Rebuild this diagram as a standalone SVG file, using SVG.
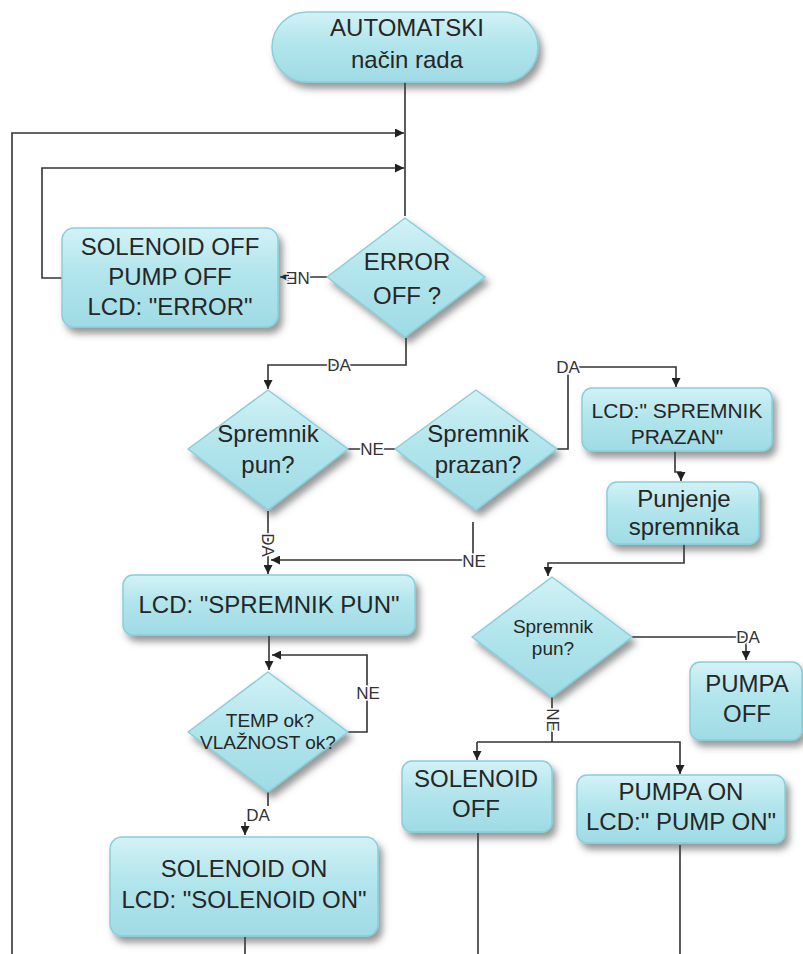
<svg xmlns="http://www.w3.org/2000/svg" width="803" height="954" viewBox="0 0 803 954">
<style>
.n{fill:url(#g);stroke:#86cfdc;stroke-width:1.5;filter:url(#sh)}
.t{font-family:"Liberation Sans",Arial,sans-serif;font-size:24px;fill:#262626;text-anchor:middle}
.s{font-size:19px}
.m{font-size:21px}
.c{fill:none;stroke:#333;stroke-width:1.6}
.a{marker-end:url(#ar)}
.l{font-family:"Liberation Sans",Arial,sans-serif;font-size:17px;fill:#333;text-anchor:middle;dominant-baseline:central;paint-order:stroke;stroke:#fff;stroke-width:3px}
</style>
<defs>
<linearGradient id="g" x1="0" y1="0" x2="0" y2="1">
<stop offset="0" stop-color="#d2f2f6"/>
<stop offset="0.45" stop-color="#b2e5ec"/>
<stop offset="1" stop-color="#9fdbe5"/>
</linearGradient>
<filter id="sh" x="-20%" y="-20%" width="150%" height="160%">
<feDropShadow dx="4" dy="6" stdDeviation="3.5" flood-color="#444" flood-opacity="0.55"/>
</filter>
<marker id="ar" viewBox="0 0 10 10" refX="10" refY="5" markerWidth="9" markerHeight="9" markerUnits="userSpaceOnUse" orient="auto">
<path d="M0,0 L10,5 L0,10 z" fill="#222"/>
</marker>
</defs>
<g id="connectors">
<path class="c" d="M405,82 V216"/>
<path class="c a" d="M12,954 V133 H404"/>
<path class="c a" d="M62,278 H42 V168 H404"/>
<path class="c a" d="M327,277 H280"/>
<path class="c a" d="M406,338 V365 H268 V389"/>
<path class="c" d="M348,449 H395"/>
<path class="c a" d="M557,449 H568 V367 H676 V387"/>
<path class="c a" d="M473,522 V560 H271"/>
<path class="c a" d="M268,511 V574"/>
<path class="c a" d="M675,451 V472 H681 V481"/>
<path class="c a" d="M684,544 V563 H548 V576"/>
<path class="c a" d="M269,636 V670"/>
<path class="c a" d="M348,732 H367 V655 H272"/>
<path class="c" d="M268,792 V806"/>
<path class="c a" d="M245,822 V835"/>
<path class="c" d="M245,937 V954"/>
<path class="c a" d="M632,637 H746 V660"/>
<path class="c" d="M552,697 V742"/>
<path class="c a" d="M477,742 V760"/>
<path class="c a" d="M477,742 H680 V774"/>
<path class="c" d="M478,833 V954"/>
<path class="c" d="M680,845 V954"/>
<text class="l" transform="translate(298,277) rotate(180)">NE</text>
<text class="l" x="339" y="365">DA</text>
<text class="l" x="372" y="449">NE</text>
<text class="l" x="568" y="367">DA</text>
<text class="l" x="474" y="561">NE</text>
<text class="l" transform="translate(267,545) rotate(90)">DA</text>
<text class="l" x="368" y="693">NE</text>
<text class="l" x="258" y="815">DA</text>
<text class="l" x="748" y="637">DA</text>
<text class="l" transform="translate(552,720) rotate(90)">NE</text>
</g>
<g id="start">
<rect class="n" x="272" y="12" width="266" height="70" rx="35"/>
<text class="t" x="407" y="36">AUTOMATSKI</text>
<text class="t" x="407" y="68">način rada</text>
</g>
<g id="error-check">
<path class="n" d="M405,218 L485,277 L405,337 L327,277 Z" stroke-linejoin="round"/>
<text class="t" x="407" y="270">ERROR</text>
<text class="t" x="407" y="304">OFF ?</text>
</g>
<g id="error-box">
<rect class="n" x="62" y="228" width="216" height="99" rx="12"/>
<text class="t" x="170" y="255">SOLENOID OFF</text>
<text class="t" x="170" y="285">PUMP OFF</text>
<text class="t" x="170" y="315">LCD: "ERROR"</text>
</g>
<g id="pun1">
<path class="n" d="M268,390 L348,449 L268,510 L188,449 Z" stroke-linejoin="round"/>
<text class="t" x="268" y="442">Spremnik</text>
<text class="t" x="268" y="473">pun?</text>
</g>
<g id="prazan">
<path class="n" d="M476,390 L557,449 L476,510 L395,449 Z" stroke-linejoin="round"/>
<text class="t" x="478" y="442">Spremnik</text>
<text class="t" x="478" y="473">prazan?</text>
</g>
<g id="lcd-prazan">
<rect class="n" x="582" y="388" width="190" height="63" rx="10"/>
<text class="t m" x="677" y="418">LCD:" SPREMNIK</text>
<text class="t m" x="677" y="444">PRAZAN"</text>
</g>
<g id="punjenje">
<rect class="n" x="607" y="482" width="152" height="62" rx="10"/>
<text class="t" x="684" y="507">Punjenje</text>
<text class="t" x="684" y="535">spremnika</text>
</g>
<g id="lcd-pun">
<rect class="n" x="123" y="575" width="292" height="60" rx="10"/>
<text class="t" x="269" y="613">LCD: "SPREMNIK PUN"</text>
</g>
<g id="temp">
<path class="n" d="M268,672 L348,732 L268,792 L188,732 Z" stroke-linejoin="round"/>
<text class="t s" x="270" y="727">TEMP ok?</text>
<text class="t s" x="268" y="749">VLAŽNOST ok?</text>
</g>
<g id="solenoid-on">
<rect class="n" x="110" y="837" width="268" height="99" rx="12"/>
<text class="t" x="244" y="877">SOLENOID ON</text>
<text class="t" x="244" y="908">LCD: "SOLENOID ON"</text>
</g>
<g id="pun2">
<path class="n" d="M552,577 L632,637 L552,697 L472,637 Z" stroke-linejoin="round"/>
<text class="t s" x="553" y="633">Spremnik</text>
<text class="t s" x="553" y="655">pun?</text>
</g>
<g id="pumpa-off">
<rect class="n" x="690" y="662" width="112" height="78" rx="10"/>
<text class="t" x="747" y="692">PUMPA</text>
<text class="t" x="747" y="722">OFF</text>
</g>
<g id="solenoid-off">
<rect class="n" x="402" y="761" width="150" height="71" rx="10"/>
<text class="t" x="476" y="787">SOLENOID</text>
<text class="t" x="476" y="817">OFF</text>
</g>
<g id="pumpa-on">
<rect class="n" x="577" y="775" width="208" height="68" rx="10"/>
<text class="t" x="681" y="800">PUMPA ON</text>
<text class="t" x="681" y="830">LCD:" PUMP ON"</text>
</g>
</svg>
